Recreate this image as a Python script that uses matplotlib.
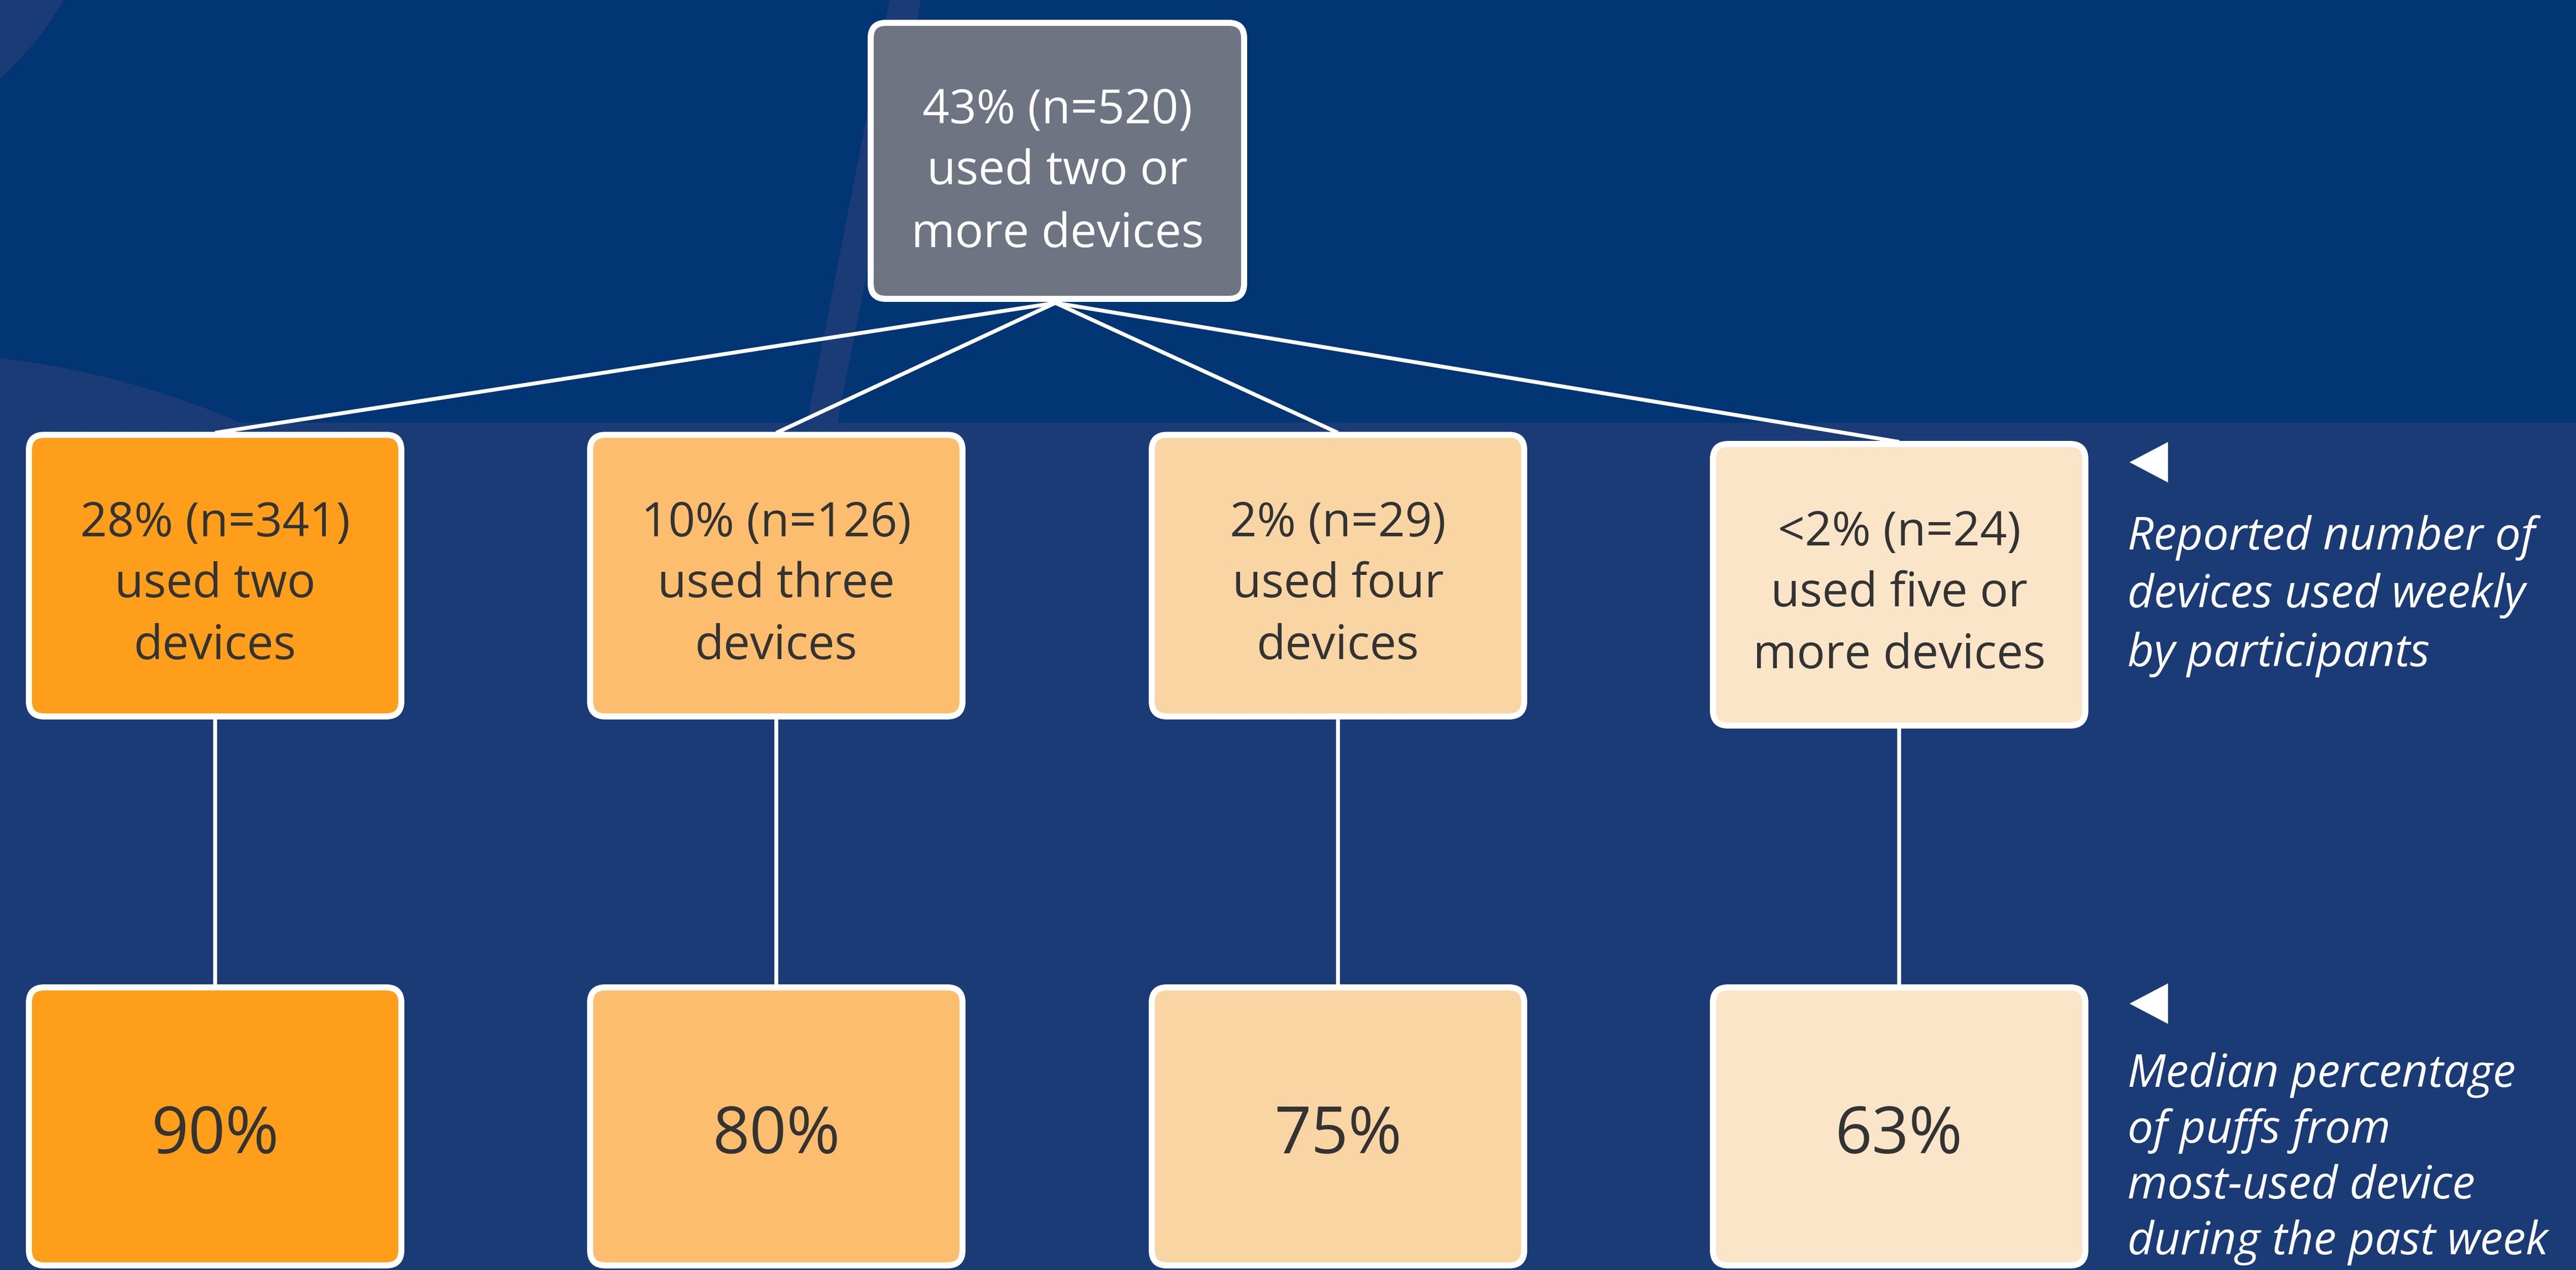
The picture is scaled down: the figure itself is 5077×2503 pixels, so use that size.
import matplotlib.pyplot as plt
from matplotlib.patches import FancyBboxPatch, Circle, Polygon, Rectangle

# ---- data ----
top_share = '43%'
top_n = 520
top_desc = ['used two or', 'more devices']

shares = ['28%', '10%', '2%', '<2%']
ns = [341, 126, 29, 24]
desc = [['used two', 'devices'],
        ['used three', 'devices'],
        ['used four', 'devices'],
        ['used five or', 'more devices']]
median_pct = [90, 80, 75, 63]

notes = [['Reported number of', 'devices used weekly', 'by participants'],
         ['Median percentage', 'of puffs from', 'most-used device', 'during the past week']]

# ---- style ----
dark_bg = '#023573'
light_bg = '#1b3b77'
top_color = '#6e7481'
box_colors = ['#ff9e1b', '#fcbe6e', '#f9d5a4', '#fbe5c9']
txt_dark = '#333333'
FONT = 'Open Sans'

W, H = 5077, 2503
fig = plt.figure(figsize=(W / 100, H / 100), dpi=100, facecolor=dark_bg)
ax = fig.add_axes([0, 0, 1, 1])
ax.set_xlim(0, W)
ax.set_ylim(H, 0)
ax.axis('off')
ax.set_facecolor(dark_bg)

# background decoration
ax.add_patch(Rectangle((0, 833), W, H - 833, fc=light_bg, ec='none', zorder=0))
ax.add_patch(Circle((-400, -300), 605, fc=light_bg, ec='none', zorder=0))
ax.add_patch(Circle((-200, 2400), 1706, fc=light_bg, ec='none', zorder=0))
ax.add_patch(Polygon([(1753, 0), (1815, 0), (1650, 835), (1590, 835)],
                     closed=True, fc=light_bg, ec='none', zorder=0))

BW = 12  # border width in px
LW_BORDER = BW * 0.72


def box(x0, y0, w, h, fc):
    p = FancyBboxPatch((x0 + BW / 2, y0 + BW / 2), w - BW, h - BW,
                       boxstyle='round,pad=0,rounding_size=30',
                       fc=fc, ec='white', lw=LW_BORDER, zorder=3)
    ax.add_patch(p)


def lines_at(cx, cy, lines, size, color, offsets, **kw):
    for line, off in zip(lines, offsets):
        ax.text(cx, cy + off, line, ha='center', va='baseline', fontsize=size,
                color=color, family=FONT, zorder=5, **kw)


# layout (pixels)
top_x0, top_y0, top_w, top_h = 1710, 39, 748, 556
top_cx = top_x0 + top_w / 2
centers = [424, 1530, 2637, 3743]
bw, bh = 746, 567
lvl2_y = [851, 851, 851, 869]
lvl3_y, lvl3_h = 1940, 560
line_offsets = [-78, 43, 165]

# top node
box(top_x0, top_y0, top_w, top_h, top_color)
lines_at(top_cx, top_y0 + top_h / 2,
         [f'{top_share} (n={top_n})'] + top_desc, 67, 'white', [-74, 46, 170])

for i, cx in enumerate(centers):
    y2 = lvl2_y[i]
    # connectors
    ax.plot([top_cx - 4, cx], [top_y0 + top_h + 2, y2 + 2], color='white',
            lw=5.5, solid_capstyle='butt', zorder=2)
    ax.plot([cx, cx], [y2 + bh - 4, lvl3_y + 4], color='white', lw=5.5, zorder=2)

    # level 2 box
    box(cx - bw / 2, y2, bw, bh, box_colors[i])
    lines_at(cx, y2 + bh / 2, [f'{shares[i]} (n={ns[i]})'] + desc[i],
             67, txt_dark, line_offsets)

    # level 3 box
    box(cx - bw / 2, lvl3_y, bw, lvl3_h, box_colors[i])
    ax.text(cx, lvl3_y + lvl3_h / 2 + 53, f'{median_pct[i]}%', ha='center',
            va='baseline', fontsize=92, color=txt_dark, family=FONT, zorder=5)

# right-hand notes
note_x = 4193
tri_tops = [871, 1938]
note_baselines = [[1083, 1197, 1313], [2142, 2252, 2362, 2472]]
for k in range(2):
    t = tri_tops[k]
    ax.add_patch(Polygon([(4197, t + 40), (4273, t), (4273, t + 80)], closed=True,
                         fc='white', ec='none', zorder=5))
    for line, yb in zip(notes[k], note_baselines[k]):
        ax.text(note_x, yb, line, ha='left', va='baseline', fontsize=65,
                style='italic', color='white', family=FONT, zorder=5)

fig.savefig('out.png', dpi=100, facecolor=dark_bg)
